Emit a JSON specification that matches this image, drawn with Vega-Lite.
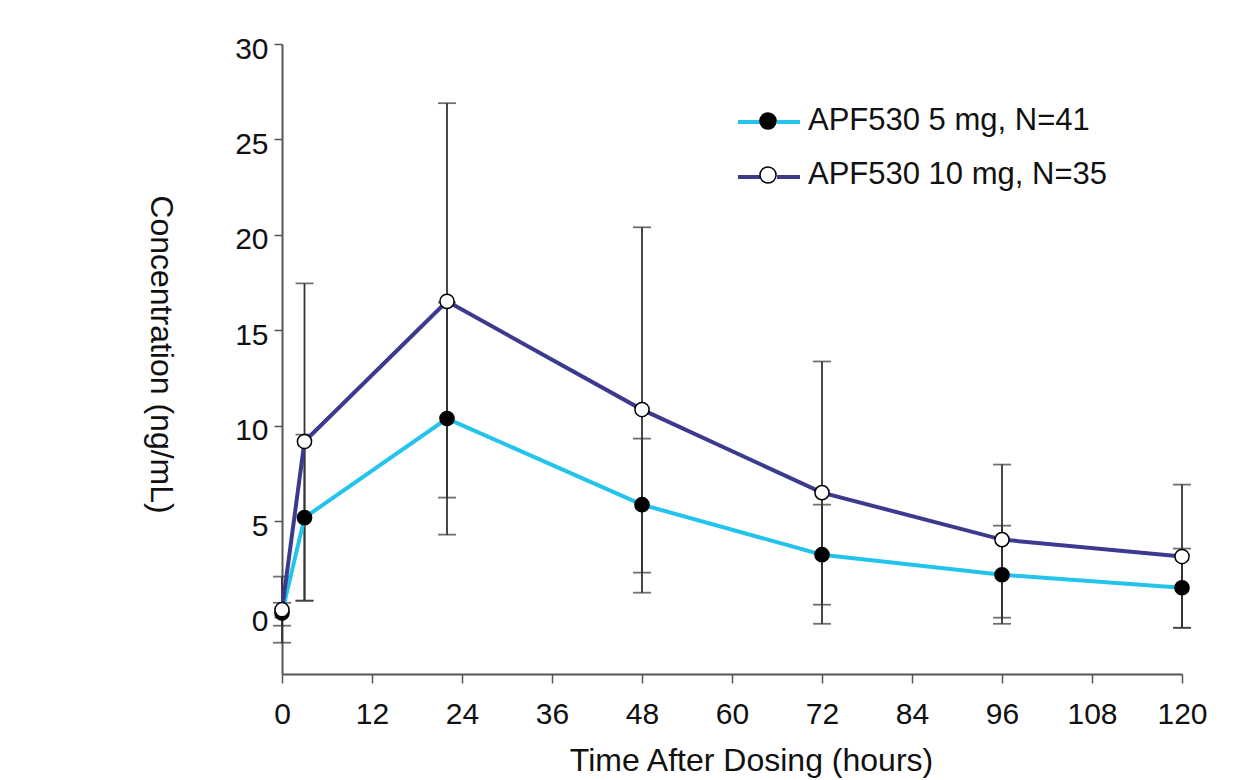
{
  "$schema": "https://vega.github.io/schema/vega-lite/v6.json",
  "width": 900,
  "height": 630,
  "autosize": {"type": "none"},
  "padding": {"left": 282, "top": 44, "right": 70, "bottom": 106},
  "background": "white",
  "config": {
    "view": {"stroke": null},
    "font": "Liberation Sans",
    "axis": {
      "grid": false,
      "domainColor": "#555555",
      "domainWidth": 2,
      "tickColor": "#555555",
      "tickWidth": 1.5,
      "tickSize": 9,
      "labelFont": "Liberation Sans",
      "labelFontSize": 30,
      "labelColor": "#111111",
      "labelFlush": false,
      "titleFont": "Liberation Sans",
      "titleFontSize": 32,
      "titleFontWeight": "normal",
      "titleColor": "#111111"
    },
    "legend": {
      "labelFont": "Liberation Sans",
      "labelFontSize": 31,
      "labelColor": "#111111",
      "labelLimit": 500
    }
  },
  "data": {
    "values": [
      {"group": "APF530 5 mg, N=41", "time": 0, "mean": 0.2, "lower": -0.47, "upper": 0.73},
      {"group": "APF530 5 mg, N=41", "time": 3, "mean": 5.19, "lower": 0.84, "upper": 9.54},
      {"group": "APF530 5 mg, N=41", "time": 22, "mean": 10.38, "lower": 4.3, "upper": 16.46},
      {"group": "APF530 5 mg, N=41", "time": 48, "mean": 5.87, "lower": 2.31, "upper": 9.33},
      {"group": "APF530 5 mg, N=41", "time": 72, "mean": 3.25, "lower": 0.63, "upper": 5.87},
      {"group": "APF530 5 mg, N=41", "time": 96, "mean": 2.2, "lower": -0.37, "upper": 4.77},
      {"group": "APF530 5 mg, N=41", "time": 120, "mean": 1.52, "lower": -0.58, "upper": 3.57},
      {"group": "APF530 10 mg, N=35", "time": 0, "mean": 0.37, "lower": -1.36, "upper": 2.1},
      {"group": "APF530 10 mg, N=35", "time": 3, "mean": 9.18, "lower": 0.84, "upper": 17.46},
      {"group": "APF530 10 mg, N=35", "time": 22, "mean": 16.52, "lower": 6.24, "upper": 26.9},
      {"group": "APF530 10 mg, N=35", "time": 48, "mean": 10.85, "lower": 1.26, "upper": 20.4},
      {"group": "APF530 10 mg, N=35", "time": 72, "mean": 6.5, "lower": -0.37, "upper": 13.37},
      {"group": "APF530 10 mg, N=35", "time": 96, "mean": 4.04, "lower": -0.05, "upper": 7.97},
      {"group": "APF530 10 mg, N=35", "time": 120, "mean": 3.15, "lower": -0.58, "upper": 6.92}
    ]
  },
  "encoding": {
    "x": {
      "field": "time",
      "type": "quantitative",
      "scale": {"domain": [0, 120], "nice": false, "zero": false},
      "axis": {
        "values": [0, 12, 24, 36, 48, 60, 72, 84, 96, 108, 120],
        "title": "Time After Dosing (hours)",
        "labelPadding": 16,
        "titleX": 469,
        "titleY": 86,
        "titleAlign": "center",
        "titleBaseline": "middle"
      }
    }
  },
  "layer": [
    {
      "mark": {"type": "rule", "color": "#333333", "strokeWidth": 1.8},
      "encoding": {
        "y": {
          "field": "lower",
          "type": "quantitative",
          "scale": {"domain": [-3, 30], "nice": false, "zero": false},
          "axis": {
            "values": [0, 5, 10, 15, 20, 25, 30],
            "title": "Concentration (ng/mL)",
            "tickSize": 8,
            "labelPadding": 6,
            "labelOffset": 5,
            "titleAngle": 90,
            "titleX": -122,
            "titleY": 310,
            "titleAlign": "center",
            "titleBaseline": "middle"
          }
        },
        "y2": {"field": "upper"}
      }
    },
    {
      "mark": {"type": "tick", "orient": "horizontal", "color": "#333333", "size": 18, "thickness": 1.8},
      "encoding": {"y": {"field": "lower", "type": "quantitative"}}
    },
    {
      "mark": {"type": "tick", "orient": "horizontal", "color": "#333333", "size": 18, "thickness": 1.8},
      "encoding": {"y": {"field": "upper", "type": "quantitative"}}
    },
    {
      "mark": {"type": "line", "strokeWidth": 4},
      "encoding": {
        "y": {"field": "mean", "type": "quantitative"},
        "color": {
          "field": "group",
          "type": "nominal",
          "sort": ["APF530 5 mg, N=41", "APF530 10 mg, N=35"],
          "scale": {"range": ["#22C4EC", "#3C3A8F"]},
          "legend": {
            "title": null,
            "orient": "none",
            "legendX": 454,
            "legendY": 45,
            "padding": 0,
            "symbolType": "M -1 0 L -0.26 0 M 0.26 0 L 1 0",
            "symbolSize": 3844,
            "symbolStrokeWidth": 4,
            "labelOffset": 8,
            "rowPadding": 7,
            "labelOpacity": 0
          }
        }
      }
    },
    {
      "mark": {"type": "point", "filled": true, "size": 200, "stroke": "black", "strokeWidth": 1.5, "opacity": 1},
      "encoding": {
        "y": {"field": "mean", "type": "quantitative"},
        "fill": {
          "field": "group",
          "type": "nominal",
          "scale": {"domain": ["APF530 5 mg, N=41", "APF530 10 mg, N=35"], "range": ["black", "white"]},
          "legend": {
            "title": null,
            "orient": "none",
            "legendX": 454,
            "legendY": 45,
            "padding": 0,
            "symbolType": "M 0.26 0 A 0.26 0.26 0 1 1 -0.26 0 A 0.26 0.26 0 1 1 0.26 0 Z",
            "symbolSize": 3844,
            "symbolStrokeColor": "black",
            "symbolStrokeWidth": 1.5,
            "symbolOpacity": 1,
            "labelOffset": 8,
            "rowPadding": 7
          }
        }
      }
    }
  ]
}
